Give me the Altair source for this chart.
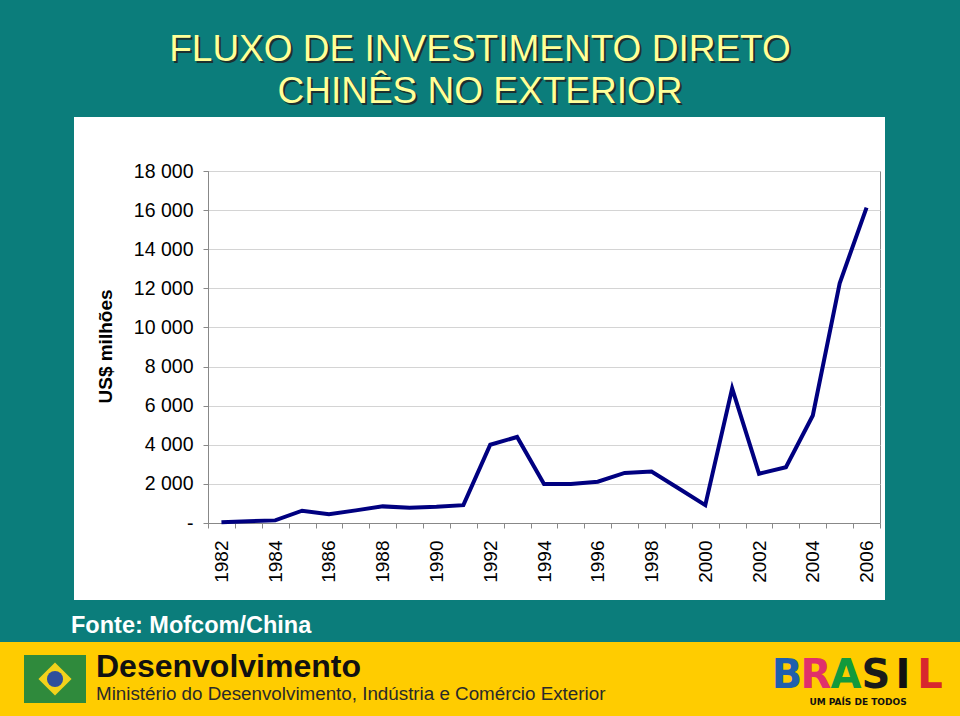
import altair as alt
import pandas as pd

# ---- data ----
years = list(range(1982, 2007))
values = [44, 93, 134, 629, 450, 645, 850, 780, 830, 913, 4000, 4400, 2000, 2000,
          2114, 2562, 2634, 1775, 916, 6885, 2518, 2855, 5498, 12261, 16130]
y_ticks = [0, 2000, 4000, 6000, 8000, 10000, 12000, 14000, 16000, 18000]

title_lines = ["FLUXO DE INVESTIMENTO DIRETO", "CHINÊS NO EXTERIOR"]
y_title = "US$ milhões"
source_text = "Fonte: Mofcom/China"
brand_main = "Desenvolvimento"
brand_sub = "Ministério do Desenvolvimento, Indústria e Comércio Exterior"
brasil_letters = ["B", "R", "A", "S", "I", "L"]
brasil_colors = ["#1f5fae", "#e0306a", "#129a3c", "#1a1a1a", "#111111", "#d8262e"]
brasil_tag = "UM PAÍS DE TODOS"

df = pd.DataFrame({"ano": years, "valor": values})

# ---- layout (plot origin at 208,171 in page pixels) ----
OX, OY = 208, 171
W, H = 672, 352
FONT = "Liberation Sans"
TEAL = "#0b7d7b"
YELLOW = "#ffcc00"


def px(x):
    return x - OX


def py(y):
    return y - OY


one = pd.DataFrame({"k": [0]})


def rect(x0, y0, x1, y1, color):
    return alt.Chart(one).mark_rect(color=color, strokeWidth=0).encode(
        x=alt.value(px(x0)), x2=alt.value(px(x1)),
        y=alt.value(py(y0)), y2=alt.value(py(y1)))


def text(t, x, y, size, color, weight="normal", align="center", baseline="alphabetic", font=FONT, angle=0):
    kw = dict(text=t, fontSize=size, color=color, fontWeight=weight, align=align,
              baseline=baseline, font=font)
    if angle:
        kw["angle"] = angle
    return alt.Chart(one).mark_text(**kw).encode(x=alt.value(px(x)), y=alt.value(py(y)))


frame = [
    rect(0, 0, 960, 117, TEAL),
    rect(0, 117, 74, 642, TEAL),
    rect(885, 117, 960, 642, TEAL),
    rect(0, 600, 960, 642, TEAL),
    rect(0, 642, 960, 716, YELLOW),
]

titles = []
for line, yb in zip(title_lines, [61, 103]):
    titles.append(text(line, 482, yb + 2, 37, "#1b3030"))
    titles.append(text(line, 480, yb, 37, "#ffff99"))

source = text(source_text, 71, 633, 23.5, "#ffffff", weight="bold", align="left")

# flag-ish emblem
flag = [
    rect(24, 655, 86, 703, "#2f8a3c"),
    alt.Chart(one).mark_point(shape="diamond", filled=True, color="#f2d21b", size=1100, opacity=1).encode(
        x=alt.value(px(55)), y=alt.value(py(679))),
    alt.Chart(one).mark_circle(color="#2d4f9c", size=260, opacity=1).encode(
        x=alt.value(px(55)), y=alt.value(py(679))),
]

brand = [
    text(brand_main, 96, 677, 32, "#111111", weight="bold", align="left"),
    text(brand_sub, 96, 700, 18.8, "#2a2a2a", align="left"),
]

brasil = []
bx = [787, 816, 846, 876, 903, 930]
for letter, c, x in zip(brasil_letters, brasil_colors, bx):
    brasil.append(text(letter, x, 688, 40, c, weight="bold", font="DejaVu Sans"))
brasil.append(text(brasil_tag, 858, 705, 9, "#111111", weight="bold", font="DejaVu Sans"))

# ---- main line ----
line = alt.Chart(df).mark_line(color="#000080", strokeWidth=4, strokeJoin="miter").encode(
    x=alt.X("ano:O", scale=alt.Scale(type="band", paddingInner=0, paddingOuter=0),
            bandPosition=0.5,
            axis=alt.Axis(title=None, tickBand="extent", labelAngle=270, labelAlign="right",
                          labelBaseline="middle", labelPadding=12, tickSize=5,
                          labelExpr="datum.value % 2 == 0 ? datum.label : ''",
                          labelOverlap=False, labelFontSize=19, labelFont=FONT,
                          labelColor="#000000", domainColor="#888888", tickColor="#888888",
                          grid=False)),
    y=alt.Y("valor:Q", scale=alt.Scale(domain=[0, 18000], nice=False),
            axis=alt.Axis(values=y_ticks, title=y_title, titleAngle=270, titleX=px(105),
                          titleY=py(346), titleAlign="center", titleBaseline="middle",
                          titleFontSize=19, titleFont=FONT, titleFontWeight="bold",
                          titleColor="#000000",
                          labelExpr="datum.value == 0 ? '-' : replace(format(datum.value, ','), ',', ' ')",
                          labelFontSize=19.5, labelFont=FONT, labelColor="#000000", labelPadding=10,
                          tickSize=5, tickColor="#888888", domainColor="#888888",
                          gridColor="#d4d4d4", gridWidth=1)),
)

chart = alt.layer(*frame, *titles, source, *flag, *brand, *brasil, line).properties(
    width=W, height=H,
    autosize=alt.AutoSizeParams(type="none"),
    padding={"left": OX, "top": OY, "right": 960 - OX - W, "bottom": 716 - OY - H},
    background="#ffffff",
).configure_view(stroke="#888888", strokeWidth=1)

chart.save("out.html", embed_options={"renderer": "svg", "actions": False})
